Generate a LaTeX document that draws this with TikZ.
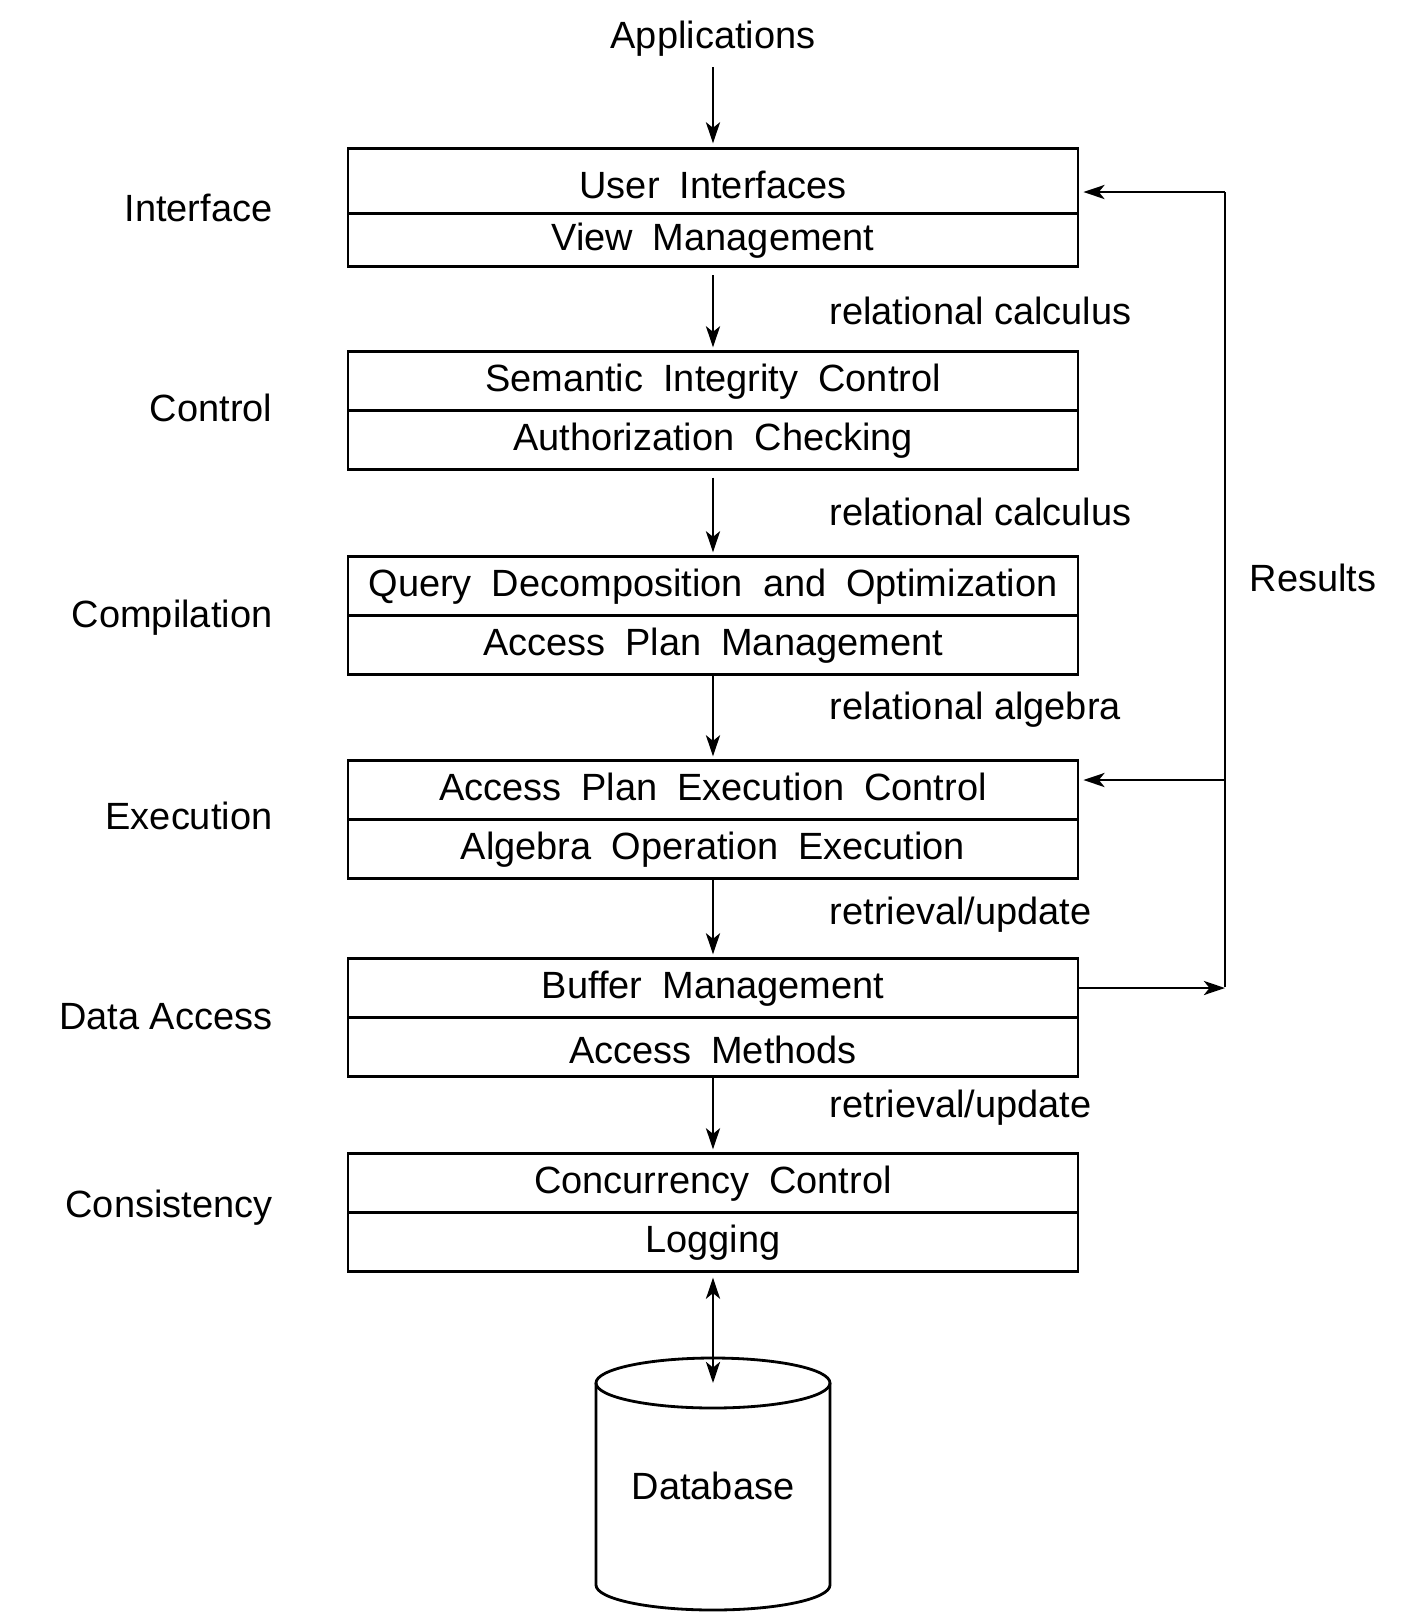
\documentclass[tikz,border=0pt]{standalone}
\usepackage{fontspec}
\setmainfont{Liberation Sans}
\newfontfamily\widefont[WordSpace=1.9]{Liberation Sans}
\usetikzlibrary{arrows.meta}
\tikzset{
 layer/.style={draw,line width=0.8pt,minimum width=7.3cm,minimum height=0.585cm,inner sep=0pt,
  text height=0.72em,text depth=0.1em,font=\widefont\fontsize{10.8}{13}\selectfont},
 lbl/.style={font=\fontsize{10.8}{13}\selectfont,inner sep=0pt},
 flow/.style={line width=0.8pt,-{Stealth[length=6pt,width=4pt,inset=1.6pt]}},
 flowboth/.style={line width=0.8pt,{Stealth[length=6pt,width=4pt,inset=1.6pt]}-{Stealth[length=6pt,width=4pt,inset=1.6pt]}}
}
\begin{document}
\begin{tikzpicture}
 \useasboundingbox (0,0) rectangle (14.18,-16.24);
 % layers
 \node[layer,minimum height=0.645cm,text height=1.08em] (ui) at (7.13,-1.81) {User Interfaces};
 \node[layer,minimum height=0.535cm] (vm) at (7.13,-2.40) {View Management};
 \node[layer] (sic) at (7.13,-3.81) {Semantic Integrity Control};
 \node[layer] (ac) at (7.13,-4.40) {Authorization Checking};
 \node[layer] (qdo) at (7.13,-5.86) {Query Decomposition and Optimization};
 \node[layer] (apm) at (7.13,-6.45) {Access Plan Management};
 \node[layer] (apec) at (7.13,-7.90) {Access Plan Execution Control};
 \node[layer] (aoe) at (7.13,-8.49) {Algebra Operation Execution};
 \node[layer] (bm) at (7.13,-9.88) {Buffer Management};
 \node[layer,text height=1.02em] (am) at (7.13,-10.47) {Access Methods};
 \node[layer] (cc) at (7.13,-11.83) {Concurrency Control};
 \node[layer] (log) at (7.13,-12.42) {Logging};
 % layer names
 \node[lbl,anchor=east] (linterface) at (2.73,-2.08) {Interface};
 \node[lbl,anchor=east] (lcontrol) at (2.73,-4.08) {Control};
 \node[lbl,anchor=east] (lcompile) at (2.73,-6.18) {Compilation};
 \node[lbl,anchor=east] (lexec) at (2.73,-8.16) {Execution};
 \node[lbl,anchor=east] (ldata) at (2.73,-10.17) {Data Access};
 \node[lbl,anchor=east] (lconsist) at (2.73,-12.08) {Consistency};
 % top input
 \node[lbl] (apps) at (7.13,-0.39) {Applications};
 \draw[flow] (apps) ++(0,-0.28) coordinate (appsout) -- ([yshift=0.04cm]ui.north);
 % downward flow
 \draw[flow,shorten <=0.07cm,shorten >=0.03cm] (vm.south) -- (sic.north);
 \draw[flow,shorten <=0.07cm,shorten >=0.03cm] (ac.south) -- (qdo.north);
 \draw[flow,shorten >=0.03cm] (apm.south) -- (apec.north);
 \draw[flow,shorten >=0.03cm] (aoe.south) -- (bm.north);
 \draw[flow,shorten >=0.03cm] (am.south) -- (cc.north);
 \node[lbl,anchor=west] (e1) at (8.29,-3.11) {relational calculus};
 \node[lbl,anchor=west] (e2) at (8.29,-5.12) {relational calculus};
 \node[lbl,anchor=west] (e3) at (8.29,-7.10) {relational algebra};
 \node[lbl,anchor=west] (e4) at (8.29,-9.15) {retrieval/update};
 \node[lbl,anchor=west] (e5) at (8.29,-11.08) {retrieval/update};
 % results
 \coordinate (r1) at (12.25,-1.92);
 \coordinate (r2) at (12.25,-7.80);
 \coordinate (r3) at (12.25,-9.87);
 \draw[line width=0.8pt] (r1) -- (r3);
 \draw[flow,shorten >=0.04cm] (r1) -- (ui.east |- r1);
 \draw[flow,shorten >=0.04cm] (r2) -- (apec.east |- r2);
 \draw[flow] (bm.east) -- (r3 |- bm.east);
 \node[lbl] (results) at (13.13,-5.78) {Results};
 % database
 \coordinate (dbtop) at (7.13,-13.83);
 \draw[line width=0.8pt] (dbtop) ellipse (1.17cm and 0.25cm);
 \draw[line width=0.8pt] ([xshift=-1.17cm]dbtop) -- ++(0,-2.02)
  arc[start angle=180,end angle=360,x radius=1.17cm,y radius=0.25cm] -- ([xshift=1.17cm]dbtop);
 \node[lbl] (db) at (7.13,-14.86) {Database};
 \draw[flowboth,shorten <=0.05cm] (log.south) -- (dbtop);
\end{tikzpicture}
\end{document}
